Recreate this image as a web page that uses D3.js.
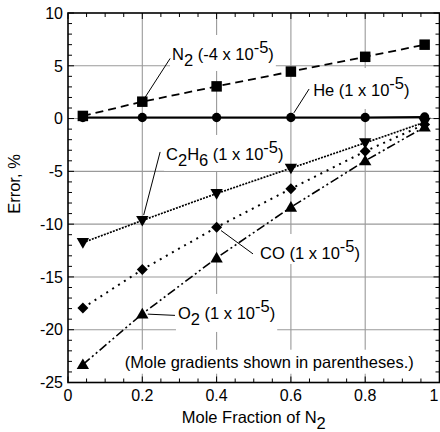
<!DOCTYPE html>
<html><head><meta charset="utf-8">
<script src="https://cdn.jsdelivr.net/npm/d3@7"></script>
<style>body{margin:0;background:#fff} svg{display:block;font-family:"Liberation Sans",Arial,Helvetica,sans-serif}</style>
</head><body><svg id="c" width="440" height="432"></svg>
<script>
// ---- data ----
const moleFraction = [0.04, 0.2, 0.4, 0.6, 0.8, 0.96];
const errN2   = [0.25, 1.6, 3.05, 4.45, 5.85, 7.0];
const errHe   = [0.1, 0.1, 0.1, 0.1, 0.1, 0.15];
const errC2H6 = [-11.75, -9.65, -7.1, -4.7, -2.3, -0.35];
const errCO   = [-17.95, -14.3, -10.3, -6.65, -3.1, -0.55];
const errO2   = [-23.3, -18.5, -13.2, -8.4, -4.0, -0.8];
const xTickValues = [0, 0.2, 0.4, 0.6, 0.8, 1];
const xTickLabels = ["0", "0.2", "0.4", "0.6", "0.8", "1"];
const yTickValues = [10, 5, 0, -5, -10, -15, -20, -25];
const yTickLabels = ["10", "5", "0", "-5", "-10", "-15", "-20", "-25"];

const svg = d3.select("#c");
const x = d3.scaleLinear().domain([0, 1]).range([68, 439.5]);
const y = d3.scaleLinear().domain([-25, 10]).range([382.5, 13]);
const X0 = x(0), X1 = x(1), Y0 = y(-25), Y1 = y(10);

// grid
const g = svg.append("g");
g.selectAll(".gx").data(xTickValues.slice(1, -1)).enter().append("line")
  .attr("x1", d => x(d)).attr("x2", d => x(d)).attr("y1", Y1).attr("y2", Y0)
  .attr("stroke", "#9a9a9a").attr("stroke-width", 1.1);
g.selectAll(".gy").data(yTickValues.slice(1, -1)).enter().append("line")
  .attr("y1", d => y(d)).attr("y2", d => y(d)).attr("x1", X0).attr("x2", X1)
  .attr("stroke", "#9a9a9a").attr("stroke-width", 1.1);

// series
const series = [
  {name: "N2", v: errN2, sym: "square", dash: "8,5", w: 1.8},
  {name: "He", v: errHe, sym: "circle", dash: null, w: 2.2},
  {name: "C2H6", v: errC2H6, sym: "down", dash: "2,1.2", w: 1.7},
  {name: "CO", v: errCO, sym: "diamond", dash: "2,5", w: 2},
  {name: "O2", v: errO2, sym: "up", dash: "9,3,2,3,2,3", w: 1.6}
];

// annotations (positions in data units)
const annotations = [
  {series: 0, pt: 1, tx: 0.28, ty: 5.55, lx: 0.275, ly: 5.7,
   parts: [["N"], ["2", "sub"], [" (-4 x 10"], ["-5", "sup"], [")"]], pad: [3, 2, 2, 2]},
  {series: 1, pt: 3, tx: 0.66, ty: 2.14, lx: 0.649, ly: 2.8,
   parts: [["He (1 x 10"], ["-5", "sup"], [")"]], pad: [6, 3, 10, 3]},
  {series: 2, pt: 1, tx: 0.264, ty: -3.92, lx: 0.248, ly: -3.16,
   parts: [["C"], ["2", "sub"], ["H"], ["6", "sub"], [" (1 x 10"], ["-5", "sup"], [")"]], pad: [3, 2, 2, 2]},
  {series: 3, pt: 2, tx: 0.517, ty: -13.3, lx: 0.498, ly: -12.82,
   parts: [["CO (1 x 10"], ["-5", "sup"], [")"]], pad: [3, 2, 2, 2]},
  {series: 4, pt: 1, tx: 0.296, ty: -18.98, lx: 0.288, ly: null,
   parts: [["O"], ["2", "sub"], [" (1 x 10"], ["-5", "sup"], [")"]], pad: [3, 2, 4, 2]},
  {series: null, tx: 0.153, ty: -23.6,
   parts: [["(Mole gradients shown in parentheses.)"]], pad: [3, 3, 3, 3]}
];

const labG = svg.append("g");
annotations.forEach(a => {
  const gg = labG.append("g");
  const rect = gg.append("rect").attr("fill", "#fff");
  const t = gg.append("text").attr("x", x(a.tx)).attr("y", y(a.ty))
    .attr("font-size", 16.5).attr("fill", "#000");
  let shift = 0;
  a.parts.forEach(p => {
    let target = 0;
    if (p[1] === "sub") target = 6;
    if (p[1] === "sup") target = -7;
    const ts = t.append("tspan").text(p[0]);
    if (target !== shift) ts.attr("dy", target - shift);
    shift = target;
  });
  const bb = t.node().getBBox();
  rect.attr("x", bb.x - a.pad[3]).attr("y", bb.y - a.pad[0])
    .attr("width", bb.width + a.pad[1] + a.pad[3]).attr("height", bb.height + a.pad[0] + a.pad[2]);
  if (a.series !== null) {
    const s = series[a.series];
    const px = x(moleFraction[a.pt]), py = y(s.v[a.pt]);
    const sx = x(a.lx), sy = a.ly === null ? py + 1.5 : y(a.ly);
    const dx = px - sx, dy = py - sy, L = Math.hypot(dx, dy);
    const cut = 5.5;
    gg.append("line").attr("x1", sx).attr("y1", sy)
      .attr("x2", px - dx / L * cut).attr("y2", py - dy / L * cut)
      .attr("stroke", "#000").attr("stroke-width", 1);
  }
});

const line = d3.line().x(d => x(d[0])).y(d => y(d[1]));
const symPath = {
  square: d3.symbol().type(d3.symbolSquare).size(110)(),
  circle: d3.symbol().type(d3.symbolCircle).size(68)(),
  diamond: "M0,-5.5L5.5,0L0,5.5L-5.5,0Z",
  up: d3.symbol().type(d3.symbolTriangle).size(66)(),
  down: d3.symbol().type(d3.symbolTriangle).size(66)()
};
series.forEach(s => {
  const pts = moleFraction.map((m, i) => [m, s.v[i]]);
  const p = svg.append("path").attr("d", line(pts)).attr("fill", "none")
    .attr("stroke", "#000").attr("stroke-width", s.w);
  if (s.dash) p.attr("stroke-dasharray", s.dash);
  svg.append("g").selectAll("path").data(pts).enter().append("path")
    .attr("d", symPath[s.sym])
    .attr("transform", d => `translate(${x(d[0])},${y(d[1]) + (s.sym === "up" ? 1 : s.sym === "down" ? -1 : 0)})` + (s.sym === "down" ? " rotate(180)" : ""))
    .attr("fill", "#000");
});

// ticks (inward on all sides)
const ax = svg.append("g").attr("stroke", "#000").attr("stroke-width", 1);
const xMinor = d3.range(0, 1.0001, 0.05);
const yMinor = d3.range(-25, 10.0001, 1);
xMinor.forEach(v => {
  const major = Math.abs(v * 5 - Math.round(v * 5)) < 1e-6;
  const len = major ? 6 : 4;
  ax.append("line").attr("x1", x(v)).attr("x2", x(v)).attr("y1", Y0).attr("y2", Y0 - len);
  ax.append("line").attr("x1", x(v)).attr("x2", x(v)).attr("y1", Y1).attr("y2", Y1 + len);
});
yMinor.forEach(v => {
  const major = Math.abs(v % 5) < 1e-6;
  const len = major ? 6 : 4;
  ax.append("line").attr("y1", y(v)).attr("y2", y(v)).attr("x1", X0).attr("x2", X0 + len);
  ax.append("line").attr("y1", y(v)).attr("y2", y(v)).attr("x1", X1).attr("x2", X1 - len);
});
svg.append("rect").attr("x", X0).attr("y", Y1).attr("width", X1 - X0).attr("height", Y0 - Y1)
  .attr("fill", "none").attr("stroke", "#000").attr("stroke-width", 1.6);

// tick labels
svg.append("g").selectAll("text").data(xTickValues).enter().append("text")
  .attr("x", d => Math.min(x(d), 434)).attr("y", 401).attr("text-anchor", "middle")
  .attr("font-size", 16).text((d, i) => xTickLabels[i]);
svg.append("g").selectAll("text").data(yTickValues).enter().append("text")
  .attr("x", 63).attr("y", d => y(d)).attr("dy", "0.36em").attr("text-anchor", "end")
  .attr("font-size", 16).text((d, i) => yTickLabels[i]);

// axis titles
const xt = svg.append("text").attr("x", (X0 + X1) / 2).attr("y", 422.5)
  .attr("text-anchor", "middle").attr("font-size", 16.5);
xt.append("tspan").text("Mole Fraction of N");
xt.append("tspan").attr("dy", 6).text("2");
svg.append("text").attr("transform", `translate(20,184) rotate(-90)`)
  .attr("text-anchor", "middle").attr("font-size", 16.5).text("Error, %");
</script></body></html>
